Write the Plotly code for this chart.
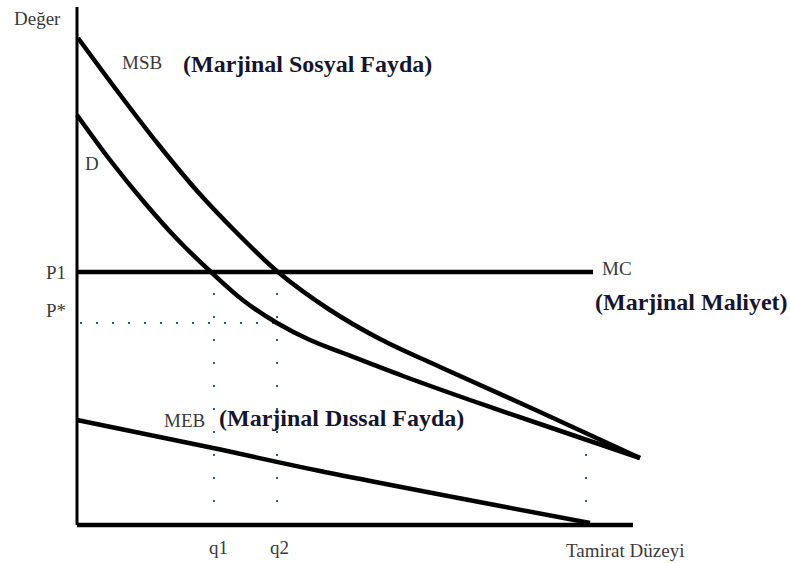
import plotly.graph_objects as go

# Chart units: horizontal = repair level (Tamirat Düzeyi), vertical = value (Değer)
msb_q = [1, 41, 81, 121, 161, 201, 253, 303, 363, 463, 563]
msb_v = [487, 433, 381, 333, 291, 253, 215, 186, 158, 113, 67]

d_q = [0, 33, 67, 100, 134, 167, 200, 233, 266, 326, 393, 463, 563]
d_v = [410, 365, 323, 286, 253, 224, 202, 185, 172, 149, 125, 101, 67]

meb_q = [0, 136, 243, 513]
meb_v = [105, 77, 54, 2]

mc_q = [0, 516]
mc_v = [253, 253]

p1 = 253
p_star = 202
q1 = 137
q2 = 200
q_end = 509
q_end_v = 80

axis_x_q = [0, 556]
axis_x_v = [0, 0]
axis_y_q = [0, 0]
axis_y_v = [0, 518]

SERIF = "Liberation Serif"
TXT = "#3a3a3a"
BOLD = "#15152e"
DOT = "#2f5f78"

fig = go.Figure()

def line(x, y, w, color="black", dash=None):
    fig.add_trace(go.Scatter(x=x, y=y, mode="lines", hoverinfo="skip",
                             line=dict(color=color, width=w, dash=dash)))

def curve(x, y, w):
    fig.add_trace(go.Scatter(x=x, y=y, mode="lines", hoverinfo="skip",
                             line=dict(color="black", width=w, shape="spline", smoothing=1.0)))

# dotted guides
line([3, q2], [p_star, p_star], 2, DOT, "2px,14px")
line([q1, q1], [0, p1], 2, DOT, "2px,21px")
line([q2, q2], [0, p1], 2, DOT, "2px,21px")
line([q_end, q_end], [0, q_end_v], 2, DOT, "2px,21px")

# axes
line(axis_y_q, axis_y_v, 3)
line(axis_x_q, axis_x_v, 4.5)

# curves
curve(msb_q, msb_v, 4.5)
curve(d_q, d_v, 4.5)
curve(meb_q, meb_v, 4.5)
line(mc_q, mc_v, 4.5)

def label(x, y, text, size=19, bold=False, xanchor="center"):
    fig.add_annotation(x=x, y=y, xref="x", yref="y", text=text, showarrow=False,
                       xanchor=xanchor, yanchor="middle",
                       font=dict(family=SERIF, size=size, color=BOLD if bold else TXT))

label(-40, 507, "Değer")
label(65, 463, "MSB")
label(230, 461, "<b>(Marjinal Sosyal Fayda)</b>", 24, True)
label(15, 362, "D")
label(-9, 253, "P1", xanchor="right")
label(-9, 215, "P*", xanchor="right")
label(540, 257, "MC")
label(614, 223, "<b>(Marjinal Maliyet)</b>", 24, True)
label(107, 105, "MEB")
label(264, 107, "<b>(Marjinal Dıssal Fayda)</b>", 24, True)
label(141, -22, "q1")
label(202, -22, "q2")
label(548, -25, "Tamirat Düzeyi")

fig.update_layout(
    width=790, height=563,
    margin=dict(l=0, r=0, t=0, b=0),
    paper_bgcolor="white", plot_bgcolor="white",
    showlegend=False,
    xaxis=dict(range=[-77, 713], visible=False, fixedrange=True),
    yaxis=dict(range=[-38, 525], visible=False, fixedrange=True),
)

fig.write_html("out.html", config={"displayModeBar": False},
               post_script="document.body.style.margin='0';document.body.style.overflow='hidden';")
